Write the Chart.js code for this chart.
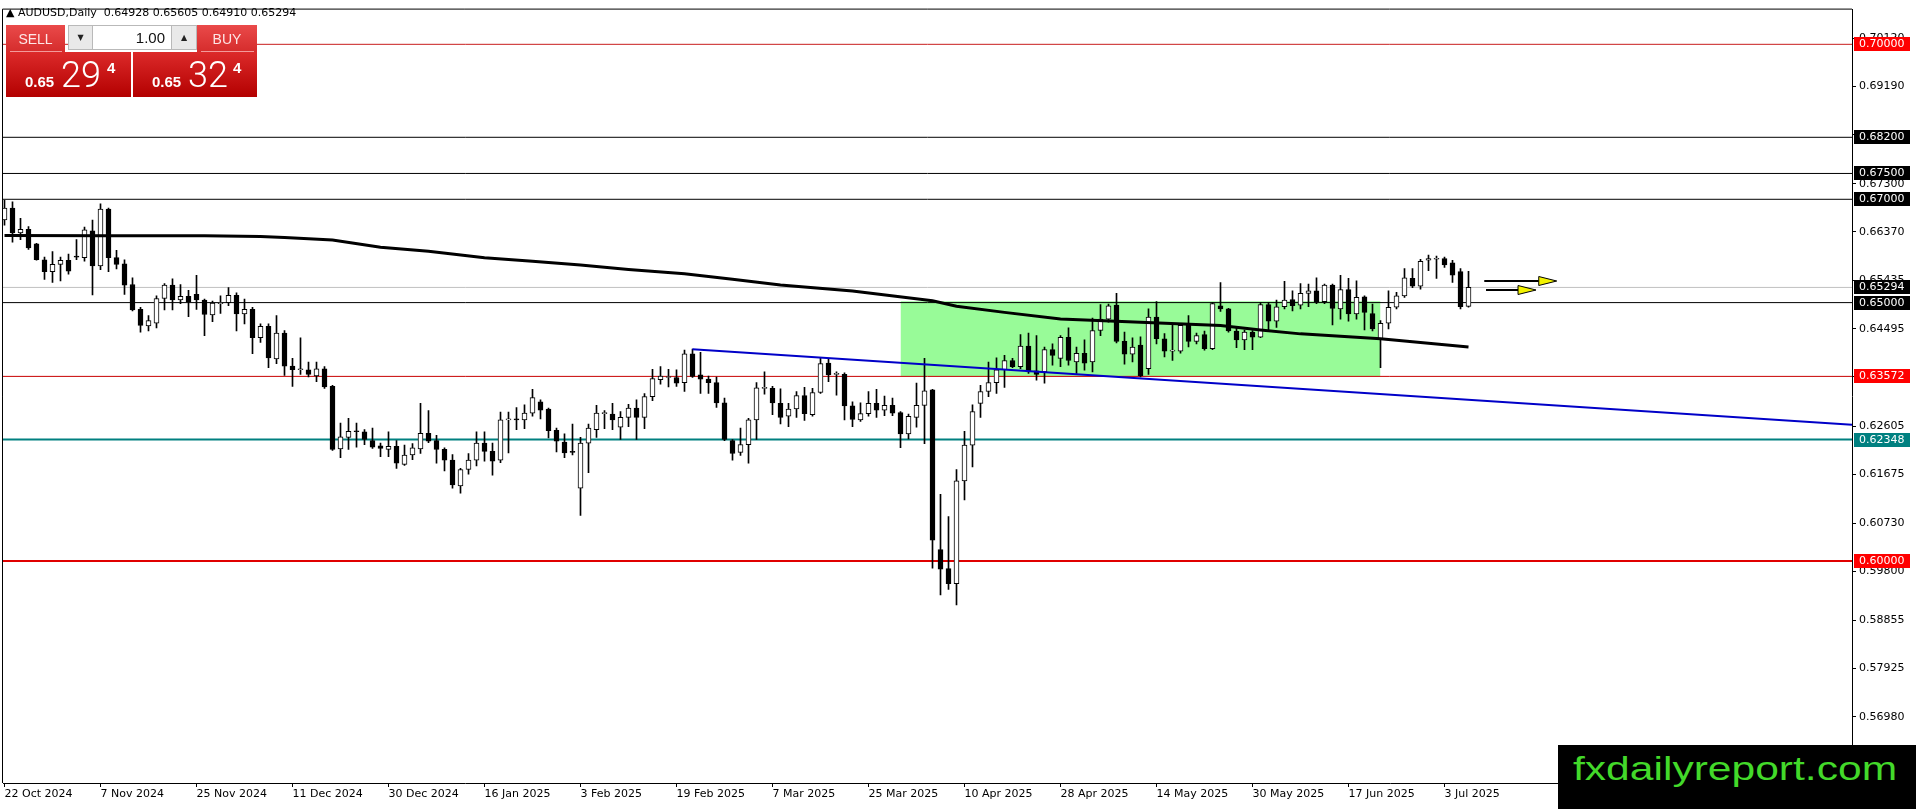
<!DOCTYPE html>
<html>
<head>
<meta charset="utf-8">
<script src="https://cdn.jsdelivr.net/npm/chart.js@4.4.1/dist/chart.umd.min.js"></script>
<style>
html, body { margin: 0; padding: 0; background: #fff; overflow: hidden; }
#wrap { position: relative; width: 1916px; height: 809px; }
#c { position: absolute; left: 0; top: 0; }
.abs { position: absolute; box-sizing: border-box; }
#hdr { left: 6px; top: 6px; font: 11px "DejaVu Sans"; line-height: 13px; color: #000; white-space: pre; }
.btnTop { top: 25px; height: 27px; background: linear-gradient(#ea4a4a, #d52c2c); color: #fde6e6;
  font: 14px "Liberation Sans"; display: flex; align-items: center; justify-content: center; }
.btnTop:after { content: ""; position: absolute; left: 4px; right: 3px; bottom: 0; height: 1px; background: #f39a9a; }
.spin { top: 25px; height: 25px; background: #e9e9e9; border: 1px solid #b9b9b9; font: 8px "DejaVu Sans";
  color: #222; display: flex; align-items: center; justify-content: center; }
#lot { left: 93px; top: 25px; width: 78px; height: 25px; background: #fff; border-top: 1px solid #b9b9b9;
  border-bottom: 1px solid #b9b9b9; font: 15px "Liberation Sans"; text-align: right; padding-right: 6px; line-height: 23px; color: #111; }
.px { top: 52px; height: 45px; background: linear-gradient(#dc2a2a, #b30000); color: #fff; }
.px span { position: absolute; line-height: 1; white-space: pre; }
.small { font: bold 15px "Liberation Sans"; top: 22px; }
.big { font: 300 36px "Roboto"; top: 5px; }
.sup { font: bold 15px "Liberation Sans"; top: 8px; }
#logo { left: 1558px; top: 745px; width: 358px; height: 64px; background: #000; overflow: hidden; }
#logo span { position: absolute; left: 15px; top: 7px; font: 33px "Liberation Sans"; line-height: 33px; color: #43d92a;
  transform: scaleX(1.29); transform-origin: 0 0; white-space: pre; }
</style>
</head>
<body>
<div id="wrap">
  <canvas id="c" width="1916" height="809"></canvas>
  <div id="hdr" class="abs">▲ AUDUSD,Daily  0.64928 0.65605 0.64910 0.65294</div>
  <div class="abs btnTop" style="left:6px;width:59px;">SELL</div>
  <div class="abs spin" style="left:68px;width:25px;">▼</div>
  <div id="lot" class="abs">1.00</div>
  <div class="abs spin" style="left:171px;width:26px;">▲</div>
  <div class="abs btnTop" style="left:197px;width:60px;">BUY</div>
  <div class="abs px" style="left:6px;width:125px;">
    <span class="small" style="left:19px">0.65</span><span class="big" style="left:55px">29</span><span class="sup" style="left:101px">4</span>
  </div>
  <div class="abs px" style="left:133px;width:124px;">
    <span class="small" style="left:19px">0.65</span><span class="big" style="left:55px">32</span><span class="sup" style="left:100px">4</span>
  </div>
  <div id="logo" class="abs"><span>fxdailyreport.com</span></div>
</div>
<script>
// daily candles, 22 Oct 2024 .. 8 Jul 2025 (bar index 0..183)
const opens = [
  0.6660, 0.6683, 0.6635, 0.6642, 0.6614, 0.6583, 0.6560, 0.6574, 0.6582, 0.6589,
  0.6587, 0.6639, 0.6571, 0.6681, 0.6587, 0.6575, 0.6535, 0.6487, 0.6455, 0.6460,
  0.6508, 0.6534, 0.6505, 0.6512, 0.6516, 0.6505, 0.6476, 0.6498, 0.6500, 0.6514,
  0.6478, 0.6487, 0.6432, 0.6454, 0.6391, 0.6441, 0.6377, 0.6370, 0.6370, 0.6358,
  0.6372, 0.6338, 0.6217, 0.6239, 0.6252, 0.6250, 0.6233, 0.6223, 0.6216, 0.6222,
  0.6187, 0.6205, 0.6217, 0.6247, 0.6233, 0.6216, 0.6195, 0.6145, 0.6177, 0.6195,
  0.6228, 0.6212, 0.6195, 0.6273, 0.6274, 0.6273, 0.6286, 0.6308, 0.6294, 0.6253,
  0.6230, 0.6211, 0.6141, 0.6228, 0.6254, 0.6285, 0.6284, 0.6259, 0.6278, 0.6296,
  0.6278, 0.6318, 0.6351, 0.6355, 0.6355, 0.6345, 0.6401, 0.6360, 0.6352, 0.6345,
  0.6306, 0.6233, 0.6210, 0.6225, 0.6273, 0.6334, 0.6334, 0.6305, 0.6280, 0.6294,
  0.6320, 0.6283, 0.6326, 0.6383, 0.6361, 0.6361, 0.6300, 0.6273, 0.6285, 0.6305,
  0.6292, 0.6301, 0.6287, 0.6246, 0.6278, 0.6301, 0.6331, 0.6022, 0.5985, 0.5956,
  0.6155, 0.6224, 0.6305, 0.6328, 0.6345, 0.6370, 0.6388, 0.6376, 0.6416, 0.6368,
  0.6366, 0.6409, 0.6392, 0.6433, 0.6385, 0.6402, 0.6385, 0.6446, 0.6468, 0.6495,
  0.6425, 0.6400, 0.6418, 0.6372, 0.6472, 0.6430, 0.6406, 0.6406, 0.6456, 0.6425,
  0.6438, 0.6411, 0.6494, 0.6488, 0.6445, 0.6428, 0.6443, 0.6433, 0.6496, 0.6464,
  0.6492, 0.6506, 0.6495, 0.6518, 0.6523, 0.6502, 0.6534, 0.6488, 0.6525, 0.6478,
  0.6511, 0.6479, 0.6430, 0.6460, 0.6491, 0.6513, 0.6547, 0.6532, 0.6582, 0.6584,
  0.6585, 0.6577, 0.6560, 0.64928
];
const highs = [
  0.6698, 0.6695, 0.6663, 0.6647, 0.6615, 0.6588, 0.6599, 0.6588, 0.6594, 0.6622,
  0.6646, 0.6660, 0.6691, 0.6683, 0.6601, 0.6583, 0.6548, 0.6491, 0.6475, 0.6513,
  0.6537, 0.6546, 0.6535, 0.6524, 0.6553, 0.6507, 0.6503, 0.6513, 0.6529, 0.6519,
  0.6507, 0.6491, 0.6459, 0.6459, 0.6475, 0.6446, 0.6392, 0.6432, 0.6385, 0.6385,
  0.6376, 0.6340, 0.6267, 0.6276, 0.6267, 0.6254, 0.6257, 0.6228, 0.6250, 0.6233,
  0.6224, 0.6227, 0.6305, 0.6291, 0.6243, 0.6219, 0.6206, 0.6179, 0.6208, 0.6250,
  0.6250, 0.6228, 0.6288, 0.6288, 0.6297, 0.6302, 0.6332, 0.6312, 0.6296, 0.6257,
  0.6246, 0.6265, 0.6239, 0.6265, 0.6301, 0.6291, 0.6305, 0.6289, 0.6303, 0.6312,
  0.6324, 0.6371, 0.6376, 0.6371, 0.6370, 0.6408, 0.6410, 0.6404, 0.6358, 0.6356,
  0.6315, 0.6235, 0.6257, 0.6276, 0.6345, 0.6366, 0.6338, 0.6333, 0.6305, 0.6328,
  0.6336, 0.6334, 0.6393, 0.6390, 0.6366, 0.6364, 0.6308, 0.6306, 0.6328, 0.6332,
  0.6319, 0.6315, 0.6289, 0.6284, 0.6344, 0.6392, 0.6332, 0.6129, 0.6086, 0.6177,
  0.6251, 0.6302, 0.6340, 0.6385, 0.6393, 0.6398, 0.6392, 0.6438, 0.6441, 0.6436,
  0.6414, 0.6420, 0.6436, 0.6451, 0.6414, 0.6428, 0.6470, 0.6496, 0.6497, 0.6518,
  0.6443, 0.6432, 0.6434, 0.6488, 0.6502, 0.6440, 0.6459, 0.6460, 0.6475, 0.6441,
  0.6445, 0.6500, 0.6539, 0.6489, 0.6454, 0.6447, 0.6446, 0.6500, 0.6500, 0.6505,
  0.6541, 0.6523, 0.6537, 0.6536, 0.6548, 0.6536, 0.6536, 0.6553, 0.6547, 0.6542,
  0.6513, 0.6497, 0.6465, 0.6523, 0.6520, 0.6566, 0.6566, 0.6584, 0.6592, 0.6590,
  0.6588, 0.6582, 0.6566, 0.65605
];
const lows = [
  0.6650, 0.6617, 0.6622, 0.6603, 0.6582, 0.6545, 0.6539, 0.6542, 0.6555, 0.6583,
  0.6580, 0.6515, 0.6564, 0.6560, 0.6565, 0.6516, 0.6484, 0.6443, 0.6445, 0.6451,
  0.6486, 0.6486, 0.6498, 0.6473, 0.6487, 0.6436, 0.6463, 0.6479, 0.6494, 0.6445,
  0.6459, 0.6401, 0.6423, 0.6374, 0.6382, 0.6359, 0.6338, 0.6361, 0.6356, 0.6347,
  0.6334, 0.6214, 0.6200, 0.6216, 0.6220, 0.6225, 0.6218, 0.6202, 0.6202, 0.6179,
  0.6185, 0.6196, 0.6208, 0.6229, 0.6189, 0.6174, 0.6141, 0.6131, 0.6168, 0.6184,
  0.6193, 0.6166, 0.6190, 0.6209, 0.6254, 0.6256, 0.6280, 0.6275, 0.6238, 0.6211,
  0.6200, 0.6205, 0.6088, 0.6171, 0.6239, 0.6256, 0.6254, 0.6235, 0.6260, 0.6235,
  0.6256, 0.6310, 0.6342, 0.6337, 0.6338, 0.6328, 0.6355, 0.6324, 0.6324, 0.6297,
  0.6233, 0.6195, 0.6204, 0.6189, 0.6235, 0.6323, 0.6283, 0.6265, 0.6260, 0.6278,
  0.6272, 0.6280, 0.6324, 0.6347, 0.6321, 0.6273, 0.6260, 0.6270, 0.6280, 0.6278,
  0.6281, 0.6281, 0.6219, 0.6236, 0.6259, 0.6227, 0.5986, 0.5934, 0.5945, 0.5915,
  0.6118, 0.6182, 0.6278, 0.6318, 0.6324, 0.6336, 0.6374, 0.6372, 0.6363, 0.6350,
  0.6344, 0.6379, 0.6376, 0.6379, 0.6363, 0.6369, 0.6366, 0.6436, 0.6462, 0.6422,
  0.6381, 0.6385, 0.6356, 0.6361, 0.6420, 0.6395, 0.6388, 0.6402, 0.6414, 0.6420,
  0.6408, 0.6409, 0.6483, 0.6443, 0.6413, 0.6409, 0.6409, 0.6432, 0.6446, 0.6452,
  0.6488, 0.6484, 0.6488, 0.6492, 0.6498, 0.6498, 0.6457, 0.6468, 0.6464, 0.6468,
  0.6447, 0.6445, 0.6374, 0.6449, 0.6488, 0.6510, 0.6529, 0.6526, 0.6562, 0.6547,
  0.6568, 0.6539, 0.6488, 0.64910
];
const closes = [
  0.6683, 0.6635, 0.6642, 0.6606, 0.6583, 0.6560, 0.6574, 0.6582, 0.6561, 0.6588,
  0.6641, 0.6571, 0.6681, 0.6587, 0.6574, 0.6534, 0.6486, 0.6456, 0.6465, 0.6508,
  0.6534, 0.6505, 0.6512, 0.6502, 0.6505, 0.6477, 0.6499, 0.6500, 0.6514, 0.6478,
  0.6487, 0.6432, 0.6454, 0.6393, 0.6441, 0.6377, 0.6370, 0.6370, 0.6361, 0.6372,
  0.6337, 0.6216, 0.6240, 0.6251, 0.6250, 0.6235, 0.6220, 0.6218, 0.6222, 0.6189,
  0.6205, 0.6219, 0.6247, 0.6232, 0.6216, 0.6195, 0.6147, 0.6177, 0.6195, 0.6228,
  0.6212, 0.6193, 0.6273, 0.6274, 0.6273, 0.6286, 0.6316, 0.6292, 0.6252, 0.6232,
  0.6209, 0.6210, 0.6228, 0.6257, 0.6286, 0.6286, 0.6273, 0.6278, 0.6296, 0.6278,
  0.6318, 0.6353, 0.6358, 0.6355, 0.6344, 0.6401, 0.6357, 0.6352, 0.6345, 0.6306,
  0.6235, 0.6208, 0.6225, 0.6273, 0.6335, 0.6335, 0.6306, 0.6278, 0.6294, 0.6320,
  0.6285, 0.6326, 0.6382, 0.6360, 0.6361, 0.6300, 0.6274, 0.6285, 0.6305, 0.6292,
  0.6301, 0.6286, 0.6246, 0.6280, 0.6301, 0.6329, 0.6040, 0.5984, 0.5956, 0.6155,
  0.6224, 0.6289, 0.6328, 0.6345, 0.6370, 0.6388, 0.6376, 0.6416, 0.6366, 0.6361,
  0.6409, 0.6398, 0.6433, 0.6388, 0.6402, 0.6383, 0.6446, 0.6468, 0.6494, 0.6425,
  0.6400, 0.6414, 0.6358, 0.6472, 0.6430, 0.6406, 0.6407, 0.6456, 0.6425, 0.6436,
  0.6411, 0.6498, 0.6488, 0.6445, 0.6428, 0.6443, 0.6433, 0.6496, 0.6464, 0.6492,
  0.6505, 0.6494, 0.6518, 0.6523, 0.6502, 0.6534, 0.6489, 0.6525, 0.6478, 0.6510,
  0.6481, 0.6449, 0.6460, 0.6491, 0.6513, 0.6548, 0.6532, 0.6580, 0.6585, 0.6584,
  0.6573, 0.6553, 0.6492, 0.65294
];

// thick moving average, read at a few bars
const maBars   = [0, 13, 25, 32, 35, 41, 47, 53, 60, 66, 72, 78, 85, 91, 97, 106, 116, 119, 125, 132, 142, 152, 157, 162, 172, 183];
const maValues = [0.66300, 0.66296, 0.66293, 0.66280, 0.66262, 0.66213, 0.66072, 0.65995, 0.65867, 0.65803, 0.65726, 0.65643,
                  0.65560, 0.65451, 0.65342, 0.65227, 0.65035, 0.64930, 0.64811, 0.64683, 0.64619, 0.64555, 0.64472, 0.64395,
                  0.64299, 0.64140];

// blue trend ray (two anchors), green zone, arrows
const trendBars = [86, 183];
const trendPrices = [0.64095, 0.63118];
const zoneBars = [112, 172];
const zonePrices = [0.63576, 0.65025];
const arrowStartBars = [184.97, 185.19];
const arrowTipBars = [194.03, 191.44];
const arrowPrices = [0.65418, 0.65240];

// horizontal levels
const levelPrices = [0.70000, 0.68200, 0.67500, 0.67000, 0.65294, 0.65000, 0.63572, 0.62348, 0.60000];
const levelColors = ['#c81e1e', '#000', '#000', '#000', '#c0c0c0', '#000', '#c80000', '#008080', '#e00000'];
const levelWidths = [1, 1, 1, 1, 1, 1, 1, 2, 2];
const levelBoxColors = ['#ff0000', '#000', '#000', '#000', '#000', '#000', '#ff0000', '#008080', '#ff0000'];

// axes
const tickBars = [0, 12, 24, 36, 48, 60, 72, 84, 96, 108, 120, 132, 144, 156, 168, 180];
const dateLabels = ['22 Oct 2024', '7 Nov 2024', '25 Nov 2024', '11 Dec 2024', '30 Dec 2024', '16 Jan 2025', '3 Feb 2025',
                    '19 Feb 2025', '7 Mar 2025', '25 Mar 2025', '10 Apr 2025', '28 Apr 2025', '14 May 2025', '30 May 2025',
                    '17 Jun 2025', '3 Jul 2025'];
const priceTicks = [0.70120, 0.69190, 0.68245, 0.67300, 0.66370, 0.65435, 0.64495, 0.63565, 0.62605, 0.61675, 0.60730,
                    0.59800, 0.58855, 0.57925, 0.56980];

const xMin = -0.1875, xMax = 230.9375;
const yMin = 0.55701, yMax = 0.70672;

const axisFont = { family: 'DejaVu Sans', size: 11 };

const bodyData = opens.map((o, i) => ({ x: i, y: [o, closes[i]] }));
const wickData = opens.map((o, i) => ({ x: i, y: [lows[i], highs[i]] }));
const bodyFill = opens.map((o, i) => closes[i] >= o ? '#ffffff' : '#000000');

const slope = (trendPrices[1] - trendPrices[0]) / (trendBars[1] - trendBars[0]);
const trendData = [
  { x: trendBars[0], y: trendPrices[0] },
  { x: xMax, y: trendPrices[0] + slope * (xMax - trendBars[0]) }
];

const levelSets = levelPrices.map((p, k) => ({
  type: 'line',
  data: [{ x: xMin, y: p }, { x: xMax, y: p }],
  borderColor: levelColors[k],
  borderWidth: levelWidths[k],
  pointRadius: 0,
  order: 8
}));

const markPlugin = {
  id: 'marks',
  afterDatasetsDraw(chart) {
    const { ctx, scales: { x, y } } = chart;
    ctx.save();
    arrowPrices.forEach((p, k) => {
      const x0 = x.getPixelForValue(arrowStartBars[k]);
      const x1 = x.getPixelForValue(arrowTipBars[k]);
      const yy = Math.round(y.getPixelForValue(p));
      const head = 18;
      ctx.strokeStyle = '#000';
      ctx.lineWidth = 2;
      ctx.beginPath();
      ctx.moveTo(x0, yy);
      ctx.lineTo(x1 - head, yy);
      ctx.stroke();
      ctx.beginPath();
      ctx.moveTo(x1 - head, yy - 4.5);
      ctx.lineTo(x1, yy);
      ctx.lineTo(x1 - head, yy + 4.5);
      ctx.closePath();
      ctx.fillStyle = '#f2f200';
      ctx.fill();
      ctx.lineWidth = 1;
      ctx.stroke();
    });
    ctx.restore();
  },
  afterDraw(chart) {
    const { ctx, chartArea, scales: { y } } = chart;
    ctx.save();
    // chart frame, top and left
    ctx.strokeStyle = '#000';
    ctx.lineWidth = 1;
    ctx.beginPath();
    ctx.moveTo(chartArea.left - 0.5, chartArea.bottom);
    ctx.lineTo(chartArea.left - 0.5, chartArea.top - 0.5);
    ctx.lineTo(chartArea.right, chartArea.top - 0.5);
    ctx.stroke();
    // price tags on the axis
    ctx.font = '11px "DejaVu Sans"';
    ctx.textBaseline = 'middle';
    levelPrices.forEach((p, k) => {
      const yy = Math.round(y.getPixelForValue(p));
      ctx.fillStyle = levelBoxColors[k];
      ctx.fillRect(chartArea.right + 2, yy - 7, 56, 14);
      ctx.fillStyle = '#fff';
      ctx.fillText(p.toFixed(5), chartArea.right + 7, yy + 0.5);
    });
    ctx.restore();
  }
};

new Chart(document.getElementById('c'), {
  type: 'bar',
  data: {
    datasets: [
      {
        type: 'bar',
        data: bodyData,
        backgroundColor: bodyFill,
        borderColor: '#000',
        borderWidth: 1,
        borderSkipped: false,
        barThickness: 5,
        minBarLength: 1,
        grouped: false,
        order: 2
      },
      {
        type: 'bar',
        data: wickData,
        backgroundColor: '#000',
        borderWidth: 0,
        barThickness: 1,
        grouped: false,
        order: 3
      },
      {
        type: 'line',
        data: maBars.map((b, k) => ({ x: b, y: maValues[k] })),
        borderColor: '#000',
        borderWidth: 3,
        pointRadius: 0,
        order: 1
      },
      {
        type: 'line',
        data: trendData,
        borderColor: '#0000c8',
        borderWidth: 2,
        pointRadius: 0,
        order: 1
      },
      {
        type: 'line',
        data: [{ x: zoneBars[0], y: zonePrices[1] }, { x: zoneBars[1], y: zonePrices[1] }],
        borderWidth: 0,
        pointRadius: 0,
        backgroundColor: '#98fb98',
        fill: '+1',
        order: 10
      },
      {
        type: 'line',
        data: [{ x: zoneBars[0], y: zonePrices[0] }, { x: zoneBars[1], y: zonePrices[0] }],
        borderWidth: 0,
        pointRadius: 0,
        order: 10
      },
      ...levelSets
    ]
  },
  options: {
    responsive: false,
    animation: false,
    devicePixelRatio: 1,
    layout: { padding: { left: 3, top: 3, right: 0, bottom: 0 } },
    plugins: { legend: { display: false }, tooltip: { enabled: false } },
    scales: {
      x: {
        type: 'linear',
        min: xMin,
        max: xMax,
        bounds: 'data',
        offset: false,
        afterFit: s => { s.height = 26; },
        afterBuildTicks: s => { s.ticks = tickBars.map(v => ({ value: v })); },
        grid: { display: true, drawOnChartArea: false, tickLength: 4, color: '#000', offset: false },
        border: { display: true, color: '#000', width: 1 },
        ticks: {
          autoSkip: false, maxRotation: 0, align: 'start', padding: 1, color: '#000', font: axisFont,
          callback: v => dateLabels[tickBars.indexOf(v)]
        }
      },
      y: {
        type: 'linear',
        position: 'right',
        min: yMin,
        max: yMax,
        bounds: 'data',
        afterFit: s => { s.width = 64; },
        afterBuildTicks: s => { s.ticks = priceTicks.map(v => ({ value: v })); },
        grid: { display: true, drawOnChartArea: false, tickLength: 4, color: '#000' },
        border: { display: true, color: '#000', width: 1 },
        ticks: {
          autoSkip: false, padding: 3, color: '#000', font: axisFont,
          callback: v => v.toFixed(5)
        }
      }
    }
  },
  plugins: [markPlugin]
});
</script>
</body>
</html>
